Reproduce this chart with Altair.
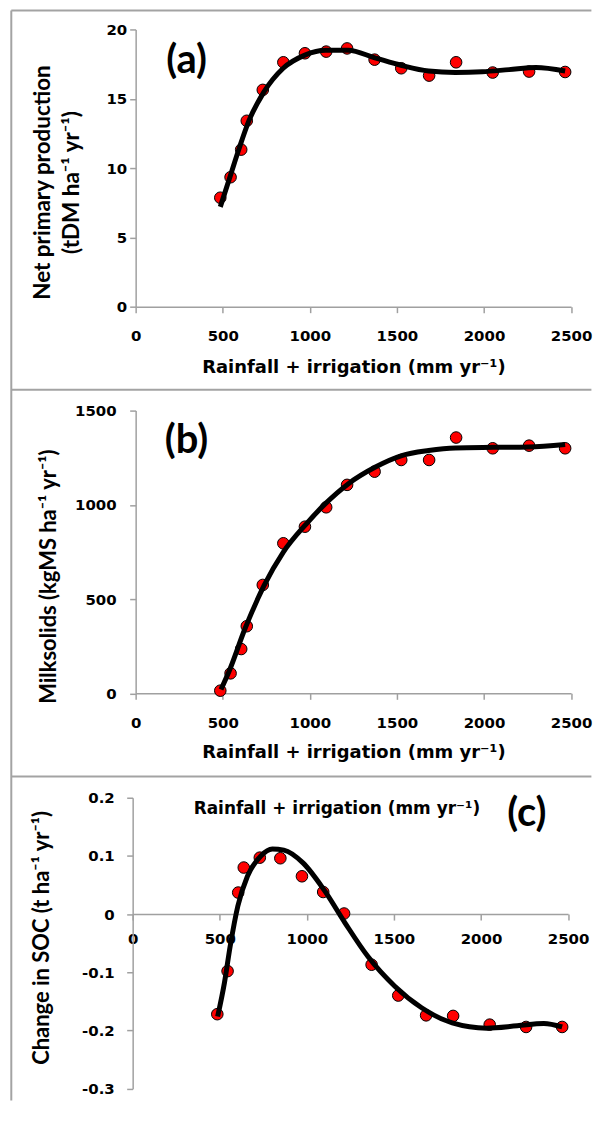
import altair as alt
import pandas as pd

# ---------------- data ----------------
rain = [486, 545, 606, 638, 730, 848, 972, 1094, 1214, 1372, 1525, 1685, 1840, 2050, 2259, 2466]
npp = [7.86, 9.34, 11.33, 13.41, 15.64, 17.63, 18.28, 18.40, 18.63, 17.82, 17.20, 16.67, 17.63, 16.89, 16.96, 16.93]
milk = [14, 106, 235, 356, 575, 796, 884, 987, 1106, 1176, 1238, 1238, 1357, 1300, 1314, 1300]
soc = [-0.172, -0.098, 0.037, 0.080, 0.097, 0.096, 0.065, 0.038, 0.001, -0.087, -0.140, -0.174, -0.175, -0.190, -0.194, -0.194]

fit_a_x = [486, 540, 595, 650, 737, 847, 972, 1090, 1220, 1374, 1528, 1682, 1836, 1990, 2144, 2298, 2466]
fit_a_y = [7.2, 9.3, 11.45, 13.4, 15.5, 17.2, 18.15, 18.5, 18.5, 17.95, 17.4, 17.0, 16.9, 16.95, 17.1, 17.25, 17.0]

fit_b_x = [490, 540, 627, 737, 847, 979, 1088, 1220, 1374, 1528, 1682, 1836, 2055, 2254, 2466]
fit_b_y = [20, 125, 341, 571, 748, 898, 1005, 1111, 1199, 1261, 1288, 1302, 1305, 1307, 1320]

fit_c_x = [488, 527, 560, 604, 659, 736, 802, 868, 978, 1098, 1219, 1351, 1505, 1659, 1835, 2033, 2208, 2361, 2466]
fit_c_y = [-0.176, -0.118, -0.055, 0.014, 0.065, 0.100, 0.112, 0.110, 0.088, 0.042, -0.015, -0.073,
           -0.124, -0.161, -0.187, -0.196, -0.192, -0.188, -0.194]

x_ticks = [0, 500, 1000, 1500, 2000, 2500]
xtitle = "Rainfall + irrigation (mm yr\u207b\u00b9)"

# ---------------- styling ----------------
W = 436.6
AXC = "#a0a0a0"
LBL_FONT = "DejaVu Sans"
TTL_FONT = "Lato"

one = pd.DataFrame({"k": [0]})


def axis_common(**kw):
    base = dict(
        grid=False, domainColor=AXC, domainWidth=1.5, tickColor=AXC, tickWidth=1.5, tickSize=6,
        labelFont=LBL_FONT, labelFontSize=15, labelFontWeight="bold", labelColor="black",
        labelFlush=False, labelOverlap=False,
        titleColor="black", titleFontWeight="bold",
    )
    base.update(kw)
    return alt.Axis(**base)


def make_panel(obs_y, fit_x, fit_y, ydom, yvals, height, ytitle, ytx, yty, xaxis, yaxis_extra, xscale_range=None,
               letter="", lx=0, ly=0, extra_layers=(), ytsize=22):
    df_obs = pd.DataFrame({"x": rain, "y": obs_y})
    df_fit = pd.DataFrame({"x": fit_x, "y": fit_y})
    if xscale_range is not None:
        xs = alt.Scale(domain=[0, 2500], nice=False, zero=False, range=xscale_range)
    else:
        xs = alt.Scale(domain=[0, 2500], nice=False, zero=False)
    ys = alt.Scale(domain=ydom, nice=False, zero=False)
    yaxis = axis_common(values=yvals, title=ytitle, titleFont=TTL_FONT, titleFontSize=ytsize, titleLineHeight=29,
                        titleX=ytx, titleY=yty, titleAngle=270, titleAlign="center", titleBaseline="middle",
                        **yaxis_extra)
    X = alt.X("x:Q", scale=xs, axis=xaxis)
    Y = alt.Y("y:Q", scale=ys, axis=yaxis)
    pts = alt.Chart(df_obs).mark_circle(size=135, color="#ff0000", stroke="black", strokeWidth=1,
                                        opacity=1).encode(x=X, y=Y)
    line = alt.Chart(df_fit).mark_line(color="black", strokeWidth=5, interpolate="monotone").encode(x=X, y=Y)
    lab = alt.Chart(one).mark_text(text=letter, font=TTL_FONT, fontSize=40, fontWeight="bold", color="black",
                                   align="center", baseline="middle").encode(x=alt.value(lx), y=alt.value(ly))
    layers = list(extra_layers) + [pts, line, lab]
    return alt.layer(*layers).properties(width=W, height=height)


def frame_rule(x1, x2, y1, y2):
    enc = dict(x=alt.value(x1), y=alt.value(y1))
    if x2 is not None:
        enc["x2"] = alt.value(x2)
    if y2 is not None:
        enc["y2"] = alt.value(y2)
    return alt.Chart(one).mark_rule(color="#a3a3a3", strokeWidth=2).encode(**enc)


# frame lines (decoration) relative to panel (a) plot area
LEFT = -124.7
RIGHT = 457
frames = [
    frame_rule(LEFT, RIGHT, -19, None),
    frame_rule(LEFT, RIGHT, 361.3, None),
    frame_rule(LEFT, RIGHT, 749, None),
    frame_rule(LEFT, None, -19, 1074),
]

xaxis_a = axis_common(values=x_ticks, format="d", labelPadding=16, title=xtitle, titleFont=LBL_FONT,
                      titleFontSize=18, titleY=61, titleBaseline="middle")
pa = make_panel(npp, fit_a_x, fit_a_y, [0, 20], [0, 5, 10, 15, 20], 278,
                ["Net primary production", "(tDM ha\u207b\u00b9 yr\u207b\u00b9)"], -93.7, 153,
                xaxis_a, dict(labelPadding=3), letter="(a)", lx=51, ly=31.5, extra_layers=frames,
                ytsize=22.5)

xaxis_b = axis_common(values=x_ticks, format="d", labelPadding=16, title=xtitle, titleFont=LBL_FONT,
                      titleFontSize=18, titleY=59, titleBaseline="middle")
pb = make_panel(milk, fit_b_x, fit_b_y, [0, 1500], [0, 500, 1000, 1500], 283.5,
                "Milksolids (kgMS ha\u207b\u00b9 yr\u207b\u00b9)", -87.7, 166,
                xaxis_b, dict(labelPadding=13.6, format="d"), letter="(b)", lx=51, ly=30.7)

HC = 291.7
xaxis_c = axis_common(values=x_ticks, format="d", labelPadding=11, title=None, offset=-(HC * 0.3 / 0.5))
ctitle = alt.Chart(one).mark_text(text=xtitle, font=LBL_FONT, fontSize=17, fontWeight="bold", color="black",
                                  align="center", baseline="middle").encode(x=alt.value(201.8), y=alt.value(11.5))
pc = make_panel(soc, fit_c_x, fit_c_y, [-0.3, 0.2], [-0.3, -0.2, -0.1, 0, 0.1, 0.2], HC,
                "Change in SOC (t ha\u207b\u00b9 yr\u207b\u00b9)", -91.5, 140,
                xaxis_c,
                dict(offset=3, labelPadding=12.5,
                     labelExpr="datum.value == 0 ? '0' : (datum.value < 0 ? '-' + format(-datum.value, '.1f') : format(datum.value, '.1f'))"),
                xscale_range=[-3, W - 3], letter="(c)", lx=392.3, ly=16, extra_layers=[ctitle])

chart = alt.vconcat(pa, pb, pc, spacing=104.2, bounds="flush").properties(
    padding={"left": 2, "top": 0, "right": 0, "bottom": 0},
    autosize=alt.AutoSizeParams(type="pad"),
).configure_view(stroke=None)

chart.save("out.html", embed_options={"renderer": "svg", "actions": False})
